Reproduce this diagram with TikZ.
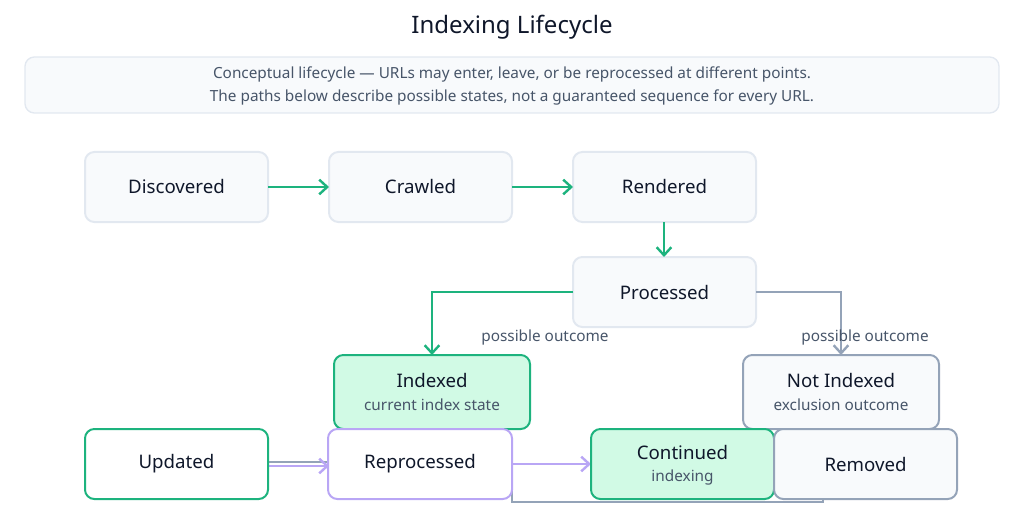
\documentclass[tikz,border=0pt]{standalone}
\usepackage{fontspec}
\setmainfont{Noto Sans}
\usetikzlibrary{arrows.meta}
\definecolor{grn}{HTML}{1DB37E}
\definecolor{grnfill}{HTML}{D1FAE5}
\definecolor{gry}{HTML}{94A3B8}
\definecolor{lbord}{HTML}{E2E8F0}
\definecolor{lfill}{HTML}{F8FAFC}
\definecolor{purp}{HTML}{B9A6F5}
\definecolor{txt}{HTML}{0F172A}
\definecolor{sub}{HTML}{475569}
\begin{document}
\begin{tikzpicture}[x=0.75pt,y=-0.75pt,
 box/.style={rounded corners=7pt,line width=1.5pt,draw=lbord,fill=lfill},
 lbl/.style={font=\fontsize{14}{16}\selectfont\bfseries,text=txt},
 sl/.style={font=\fontsize{11.5}{14}\selectfont,text=sub},
 ga/.style={draw=grn,line width=1.8pt,-{Straight Barb[length=6pt,width=11pt]}},
 gy/.style={draw=gry,line width=1.8pt},
 pa/.style={draw=purp,line width=1.8pt}]
\useasboundingbox (0,0) rectangle (1024,524);
\node[font=\fontsize{18}{22}\selectfont\bfseries,text=txt] (title) at (512,27) {Indexing Lifecycle};
\draw[rounded corners=7pt,draw=lbord,fill=lfill,line width=1pt] (25,57) rectangle (999,113);
\node[sl,text=sub,align=center,font=\fontsize{11.5}{17}\selectfont] (info) at (512,86) {Conceptual lifecycle — URLs may enter, leave, or be reprocessed at different points.\\The paths below describe possible states, not a guaranteed sequence for every URL.};
% boxes
\draw[box] (85,152) rectangle (268,222); \node[lbl] (disc) at (176.5,187) {Discovered};
\draw[box] (329,152) rectangle (512,222); \node[lbl] (crawl) at (420.5,187) {Crawled};
\draw[box] (573,152) rectangle (756,222); \node[lbl] (rend) at (664.5,187) {Rendered};
\draw[box] (573,257) rectangle (756,327); \node[lbl] (proc) at (664.5,292) {Processed};
\coordinate (dR) at (268,187); \coordinate (cL) at (329,187);
\coordinate (cR) at (512,187); \coordinate (rL) at (573,187);
\coordinate (rB) at (664,222); \coordinate (pT) at (664,257);
\coordinate (pL) at (573,292); \coordinate (pR) at (756,292);
\coordinate (iT) at (432,355); \coordinate (nT) at (841,355);
% arrows top
\draw[ga] (dR) -- (cL);
\draw[ga] (cR) -- (rL);
\draw[ga] (rB) -- (pT);
\draw[ga] (pL) -| (iT);
\draw[gy,-{Straight Barb[length=6pt,width=11pt]}] (pR) -| (nT);
\node[font=\fontsize{11.5}{14}\selectfont\bfseries,text=sub] (po1) at (545,338) {possible outcome};
\node[font=\fontsize{11.5}{14}\selectfont\bfseries,text=sub] (po2) at (865,338) {possible outcome};
% outcome boxes
\draw[box,draw=grn,fill=grnfill] (334,355) rectangle (530,429);
\node[lbl] (idx) at (432,380) {Indexed}; \node[sl] (idxs) at (432,405) {current index state};
\draw[box,draw=gry] (743,355) rectangle (939,429);
\node[lbl] (nidx) at (841,380) {Not Indexed}; \node[sl] (nidxs) at (841,405) {exclusion outcome};
% bottom connectors
\coordinate (uR) at (268,464); \coordinate (rpL) at (329,464);
\coordinate (rpR) at (512,464); \coordinate (coL) at (591,464);
\coordinate (rmB) at (823,499);
\draw[gy] (268,462) -- (329,462);
\draw[pa,-{Straight Barb[length=6pt,width=11pt]}] (268,466) -- (329,466);
\draw[pa,-{Straight Barb[length=6pt,width=11pt]}] (rpR) -- (coL);
\draw[gy] (rpR) -- (512,502) -| (rmB);
% bottom boxes
\draw[box,draw=grn,fill=white] (85,429) rectangle (268,499); \node[lbl] (upd) at (176.5,464) {Updated};
\draw[box,draw=purp,fill=white] (328,429) rectangle (512,499); \node[lbl] (rep) at (420,464) {Reprocessed};
\draw[box,draw=grn,fill=grnfill] (591,429) rectangle (774,499);
\node[lbl] (cont) at (682.5,452) {Continued}; \node[sl] (conts) at (682.5,478) {indexing};
\draw[box,draw=gry] (774,429) rectangle (957,499); \node[lbl] (rem) at (865.5,464) {Removed};
\end{tikzpicture}
\end{document}
